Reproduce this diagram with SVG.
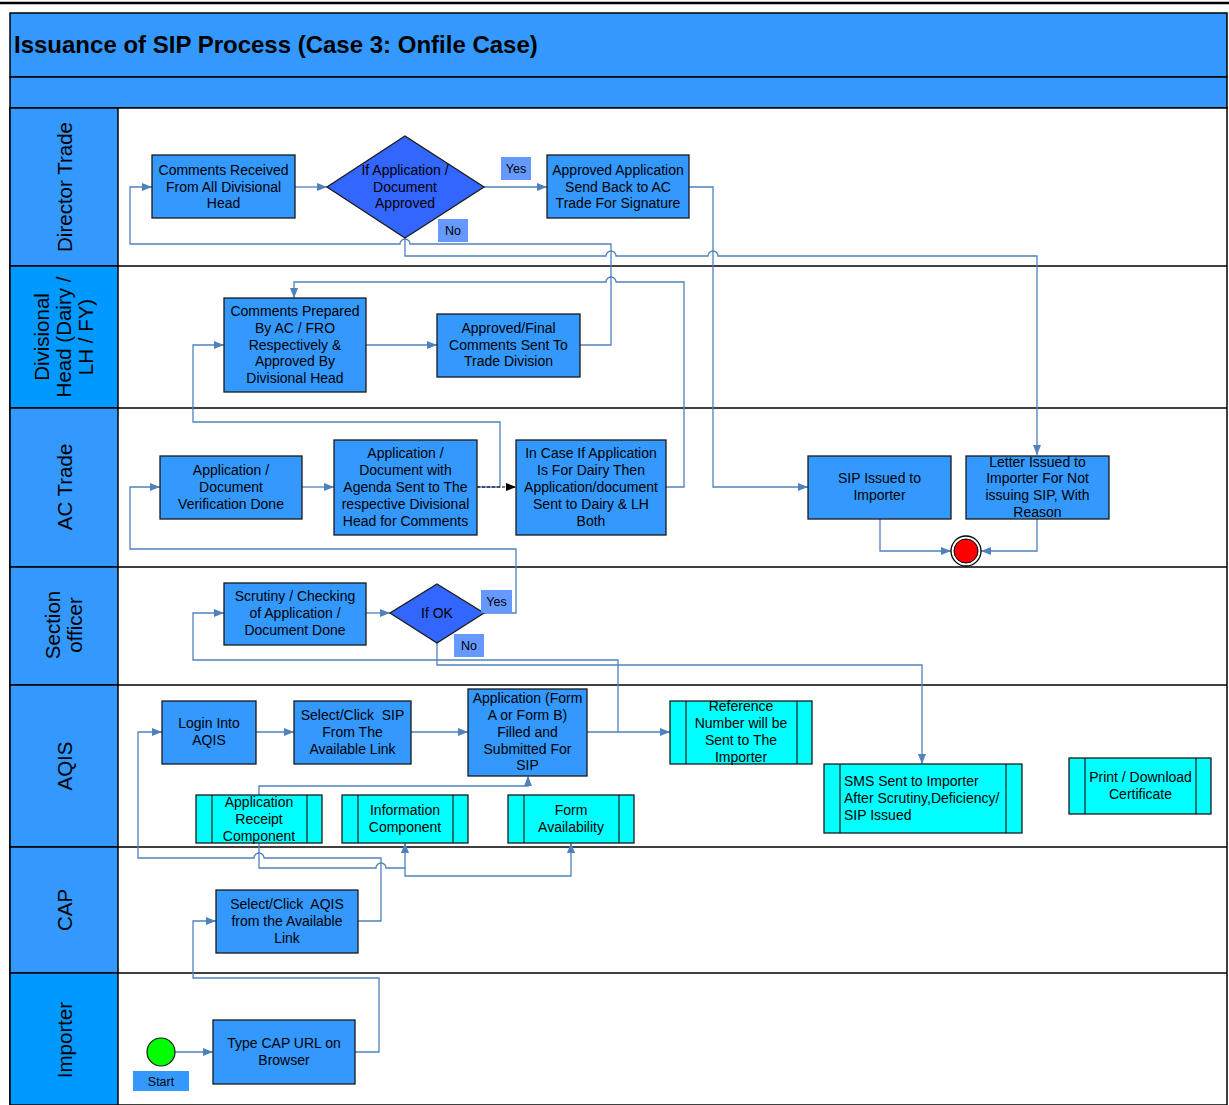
<svg xmlns="http://www.w3.org/2000/svg" width="1229" height="1105" viewBox="0 0 1229 1105">
<defs>
<style>
.n{fill:#3399FF;stroke:#1a1a1a;stroke-width:1.3}
.d{fill:#3366FF;stroke:#1a1a1a;stroke-width:1.3}
.c{fill:#00FFFF;stroke:#1a1a1a;stroke-width:1.3}
.cl{stroke:#1a1a1a;stroke-width:1.2}
.lab{fill:#6699FF}
.t{font-family:"Liberation Sans",Arial,sans-serif;font-size:14px;fill:#000;text-anchor:middle;white-space:pre}
.tl{font-family:"Liberation Sans",Arial,sans-serif;font-size:14px;fill:#000;white-space:pre}
.ts{font-family:"Liberation Sans",Arial,sans-serif;font-size:12.5px;fill:#000;text-anchor:middle}
.lane{font-family:"Liberation Sans",Arial,sans-serif;font-size:20.5px;fill:#000;text-anchor:middle;dominant-baseline:central}
.ln{fill:none;stroke:#4F81BD;stroke-width:1.3}
.sep{stroke:#000;stroke-width:1.5}
</style>
<marker id="arr" viewBox="0 0 10 8" refX="10" refY="4" markerWidth="10" markerHeight="8" markerUnits="userSpaceOnUse" orient="auto"><path d="M0,0 L10,4 L0,8 z" fill="#4F81BD"/></marker>
<marker id="arrk" viewBox="0 0 10 8" refX="10" refY="4" markerWidth="10" markerHeight="8" markerUnits="userSpaceOnUse" orient="auto"><path d="M0,0 L10,4 L0,8 z" fill="#000"/></marker>
</defs>
<rect x="0" y="0" width="1229" height="1105" fill="#fff"/>
<line x1="0" y1="3" x2="1229" y2="3" stroke="#000" stroke-width="2.5"/>
<g id="pool">
<rect x="10" y="13" width="1217" height="64" fill="#3399FF" stroke="#000" stroke-width="1.5"/>
<rect x="10" y="77" width="1217" height="31" fill="#3399FF" stroke="#000" stroke-width="1.5"/>
<text x="14" y="53" font-family="'Liberation Sans',Arial,sans-serif" font-size="24" font-weight="bold" fill="#000">Issuance of SIP Process (Case 3: Onfile Case)</text>
<rect x="10" y="108" width="1217" height="997" fill="#fff" stroke="#000" stroke-width="1.5"/>
<rect x="10" y="108" width="108" height="158" fill="#3399FF" stroke="#000" stroke-width="1.5"/>
<rect x="10" y="266" width="108" height="142" fill="#0099FF" stroke="#000" stroke-width="1.5"/>
<rect x="10" y="408" width="108" height="159" fill="#3399FF" stroke="#000" stroke-width="1.5"/>
<rect x="10" y="567" width="108" height="118" fill="#3399FF" stroke="#000" stroke-width="1.5"/>
<rect x="10" y="685" width="108" height="162" fill="#3399FF" stroke="#000" stroke-width="1.5"/>
<rect x="10" y="847" width="108" height="126" fill="#3399FF" stroke="#000" stroke-width="1.5"/>
<rect x="10" y="973" width="108" height="132" fill="#0099FF" stroke="#000" stroke-width="1.5"/>
<line class="sep" x1="118" y1="266" x2="1227" y2="266"/>
<line class="sep" x1="118" y1="408" x2="1227" y2="408"/>
<line class="sep" x1="118" y1="567" x2="1227" y2="567"/>
<line class="sep" x1="118" y1="685" x2="1227" y2="685"/>
<line class="sep" x1="118" y1="847" x2="1227" y2="847"/>
<line class="sep" x1="118" y1="973" x2="1227" y2="973"/>
<text class="lane" transform="translate(64,187) rotate(-90)">Director Trade</text>
<text class="lane" transform="translate(41,337) rotate(-90)">Divisional</text>
<text class="lane" transform="translate(63,337) rotate(-90)">Head (Dairy /</text>
<text class="lane" transform="translate(85,337) rotate(-90)">LH / FY)</text>
<text class="lane" transform="translate(64,487) rotate(-90)">AC Trade</text>
<text class="lane" transform="translate(52,625) rotate(-90)">Section</text>
<text class="lane" transform="translate(74,625) rotate(-90)">officer</text>
<text class="lane" transform="translate(64,766) rotate(-90)">AQIS</text>
<text class="lane" transform="translate(64,910) rotate(-90)">CAP</text>
<text class="lane" transform="translate(64,1040) rotate(-90)">Importer</text>
</g>
<g id="connectors">
<path class="ln" marker-end="url(#arr)" d="M295,187 H327"/>
<path class="ln" marker-end="url(#arr)" d="M484,187 H547"/>
<path class="ln" marker-end="url(#arr)" d="M580,345 H611 V244 H410 A5,5 0 0 0 400,244 H130 V187 H152"/>
<path class="ln" marker-end="url(#arr)" d="M405,238 V256 H606 A5,5 0 0 1 616,256 H708 A5,5 0 0 1 718,256 H1037 V455"/>
<path class="ln" marker-end="url(#arr)" d="M689,187 H713 V487 H808"/>
<path class="ln" marker-end="url(#arr)" d="M666,487 H684 V282 H616 A5,5 0 0 0 606,282 H294 V298"/>
<path class="ln" marker-end="url(#arr)" d="M366,345 H437"/>
<path class="ln" marker-end="url(#arr)" d="M477,487 H500 V422 H193 V345 H224"/>
<path fill="none" stroke="#000" stroke-width="1" stroke-dasharray="3,2" marker-end="url(#arrk)" d="M477,487 H516"/>
<path class="ln" marker-end="url(#arr)" d="M302,487 H334"/>
<path class="ln" marker-end="url(#arr)" d="M484,613 H516 V549 H130 V487 H160"/>
<path class="ln" marker-end="url(#arr)" d="M880,519 V551 H951"/>
<path class="ln" marker-end="url(#arr)" d="M1037,519 V551 H981"/>
<path class="ln" marker-end="url(#arr)" d="M366,613 H390"/>
<path class="ln" marker-end="url(#arr)" d="M618,732 V660 H193 V613 H224"/>
<path class="ln" marker-end="url(#arr)" d="M437,643 V665 H922 V764"/>
<path class="ln" marker-end="url(#arr)" d="M256,732 H294"/>
<path class="ln" marker-end="url(#arr)" d="M411,732 H468"/>
<path class="ln" marker-end="url(#arr)" d="M587,732 H670"/>
<path class="ln" marker-end="url(#arr)" d="M259,795 V786 H528 V776"/>
<path class="ln" marker-end="url(#arr)" d="M358,921 H381 V858 H264 A5,5 0 0 0 254,858 H138 V732 H162"/>
<path class="ln" marker-end="url(#arr)" d="M259,843 V868 H376 A5,5 0 0 1 386,868 H405 V843"/>
<path class="ln" marker-end="url(#arr)" d="M405,868 V876 H571 V843"/>
<path class="ln" marker-end="url(#arr)" d="M355,1052 H379 V978 H193 V921 H216"/>
<path class="ln" marker-end="url(#arr)" d="M175,1052 H213"/>
</g>
<g id="n-comments-received"><rect class="n" x="152" y="155" width="143" height="63"/><text class="t"><tspan x="223.5" y="175">Comments Received</tspan><tspan x="223.5" y="192">From All Divisional</tspan><tspan x="223.5" y="208">Head</tspan></text></g>
<g id="n-if-approved"><polygon class="d" points="405,136 484,187 405,238 327,187"/><text class="t"><tspan x="405" y="175">If Application /</tspan><tspan x="405" y="192">Document</tspan><tspan x="405" y="208">Approved</tspan></text></g>
<g id="l-yes1"><rect class="lab" x="501" y="157" width="30" height="23"/><text class="ts" x="516" y="173">Yes</text></g>
<g id="l-no1"><rect class="lab" x="438" y="219" width="30" height="23"/><text class="ts" x="453" y="235">No</text></g>
<g id="n-approved-app"><rect class="n" x="547" y="155" width="142" height="63"/><text class="t"><tspan x="618" y="175">Approved Application</tspan><tspan x="618" y="192">Send Back to AC</tspan><tspan x="618" y="208">Trade For Signature</tspan></text></g>
<g id="n-comments-prepared"><rect class="n" x="224" y="298" width="142" height="94"/><text class="t"><tspan x="295" y="316">Comments Prepared</tspan><tspan x="295" y="333">By AC / FRO</tspan><tspan x="295" y="350">Respectively &amp;</tspan><tspan x="295" y="366">Approved By</tspan><tspan x="295" y="383">Divisional Head</tspan></text></g>
<g id="n-approved-final"><rect class="n" x="437" y="314" width="143" height="63"/><text class="t"><tspan x="508.5" y="333">Approved/Final</tspan><tspan x="508.5" y="350">Comments Sent To</tspan><tspan x="508.5" y="366">Trade Division</tspan></text></g>
<g id="n-verification"><rect class="n" x="160" y="456" width="142" height="63"/><text class="t"><tspan x="231" y="475">Application /</tspan><tspan x="231" y="492">Document</tspan><tspan x="231" y="509">Verification Done</tspan></text></g>
<g id="n-agenda"><rect class="n" x="334" y="440" width="143" height="95"/><text class="t"><tspan x="405.5" y="458">Application /</tspan><tspan x="405.5" y="475">Document with</tspan><tspan x="405.5" y="492">Agenda Sent to The</tspan><tspan x="405.5" y="509">respective Divisional</tspan><tspan x="405.5" y="526">Head for Comments</tspan></text></g>
<g id="n-incase"><rect class="n" x="516" y="440" width="150" height="95"/><text class="t"><tspan x="591" y="458">In Case If Application</tspan><tspan x="591" y="475">Is For Dairy Then</tspan><tspan x="591" y="492">Application/document</tspan><tspan x="591" y="509">Sent to Dairy &amp; LH</tspan><tspan x="591" y="526">Both</tspan></text></g>
<g id="n-sip-issued"><rect class="n" x="808" y="456" width="143" height="63"/><text class="t"><tspan x="879.5" y="483">SIP Issued to</tspan><tspan x="879.5" y="500">Importer</tspan></text></g>
<g id="n-letter"><rect class="n" x="966" y="456" width="143" height="63"/><text class="t"><tspan x="1037.5" y="467">Letter Issued to</tspan><tspan x="1037.5" y="483">Importer For Not</tspan><tspan x="1037.5" y="500">issuing SIP, With</tspan><tspan x="1037.5" y="517">Reason</tspan></text></g>
<g id="n-end"><circle cx="966" cy="551" r="15" fill="#fff" stroke="#000" stroke-width="1.3"/><circle cx="966" cy="551" r="12" fill="#FF0000" stroke="#000" stroke-width="1"/></g>
<g id="n-scrutiny"><rect class="n" x="224" y="583" width="142" height="62"/><text class="t"><tspan x="295" y="601">Scrutiny / Checking</tspan><tspan x="295" y="618">of Application /</tspan><tspan x="295" y="635">Document Done</tspan></text></g>
<g id="n-ifok"><polygon class="d" points="437,584 484,613 437,643 390,613"/><text class="t" x="437" y="618">If OK</text></g>
<g id="l-yes2"><rect class="lab" x="481" y="590" width="31" height="23"/><text class="ts" x="496.5" y="606">Yes</text></g>
<g id="l-no2"><rect class="lab" x="454" y="634" width="30" height="23"/><text class="ts" x="469" y="650">No</text></g>
<g id="n-login"><rect class="n" x="162" y="701" width="94" height="63"/><text class="t"><tspan x="209" y="728">Login Into</tspan><tspan x="209" y="745">AQIS</tspan></text></g>
<g id="n-select-sip"><rect class="n" x="294" y="701" width="117" height="63"/><text class="t"><tspan x="352.5" y="720">Select/Click  SIP</tspan><tspan x="352.5" y="737">From The</tspan><tspan x="352.5" y="754">Available Link</tspan></text></g>
<g id="n-application-form"><rect class="n" x="468" y="689" width="119" height="87"/><text class="t"><tspan x="527.5" y="703">Application (Form</tspan><tspan x="527.5" y="720">A or Form B)</tspan><tspan x="527.5" y="737">Filled and</tspan><tspan x="527.5" y="754">Submitted For</tspan><tspan x="527.5" y="770">SIP</tspan></text></g>
<g id="n-reference"><rect class="c" x="670" y="701" width="142" height="63"/><line class="cl" x1="686" y1="701" x2="686" y2="764"/><line class="cl" x1="797" y1="701" x2="797" y2="764"/><text class="t"><tspan x="741" y="711">Reference</tspan><tspan x="741" y="728">Number will be</tspan><tspan x="741" y="745">Sent to The</tspan><tspan x="741" y="762">Importer</tspan></text></g>
<g id="n-sms"><rect class="c" x="824" y="764" width="198" height="69"/><line class="cl" x1="840" y1="764" x2="840" y2="833"/><line class="cl" x1="1006" y1="764" x2="1006" y2="833"/><text class="tl"><tspan x="844" y="786">SMS Sent to Importer</tspan><tspan x="844" y="803">After Scrutiny,Deficiency/</tspan><tspan x="844" y="820">SIP Issued</tspan></text></g>
<g id="n-print"><rect class="c" x="1069" y="758" width="142" height="56"/><line class="cl" x1="1085" y1="758" x2="1085" y2="814"/><line class="cl" x1="1196" y1="758" x2="1196" y2="814"/><text class="t"><tspan x="1140.5" y="782">Print / Download</tspan><tspan x="1140.5" y="799">Certificate</tspan></text></g>
<g id="n-app-receipt"><rect class="c" x="196" y="795" width="126" height="48"/><line class="cl" x1="212" y1="795" x2="212" y2="843"/><line class="cl" x1="307" y1="795" x2="307" y2="843"/><text class="t"><tspan x="259" y="807">Application</tspan><tspan x="259" y="824">Receipt</tspan><tspan x="259" y="841">Component</tspan></text></g>
<g id="n-info"><rect class="c" x="342" y="795" width="126" height="48"/><line class="cl" x1="358" y1="795" x2="358" y2="843"/><line class="cl" x1="453" y1="795" x2="453" y2="843"/><text class="t"><tspan x="405" y="815">Information</tspan><tspan x="405" y="832">Component</tspan></text></g>
<g id="n-form"><rect class="c" x="508" y="795" width="126" height="48"/><line class="cl" x1="524" y1="795" x2="524" y2="843"/><line class="cl" x1="619" y1="795" x2="619" y2="843"/><text class="t"><tspan x="571" y="815">Form</tspan><tspan x="571" y="832">Availability</tspan></text></g>
<g id="n-select-aqis"><rect class="n" x="216" y="890" width="142" height="63"/><text class="t"><tspan x="287" y="909">Select/Click  AQIS</tspan><tspan x="287" y="926">from the Available</tspan><tspan x="287" y="943">Link</tspan></text></g>
<g id="n-start"><circle cx="161" cy="1052" r="14" fill="#00FF00" stroke="#1a1a1a" stroke-width="1.2"/><rect x="133" y="1071" width="56" height="20" fill="#3399FF"/><text class="ts" x="161" y="1086">Start</text></g>
<g id="n-type-cap"><rect class="n" x="213" y="1020" width="142" height="64"/><text class="t"><tspan x="284" y="1048">Type CAP URL on</tspan><tspan x="284" y="1065">Browser</tspan></text></g>
</svg>
